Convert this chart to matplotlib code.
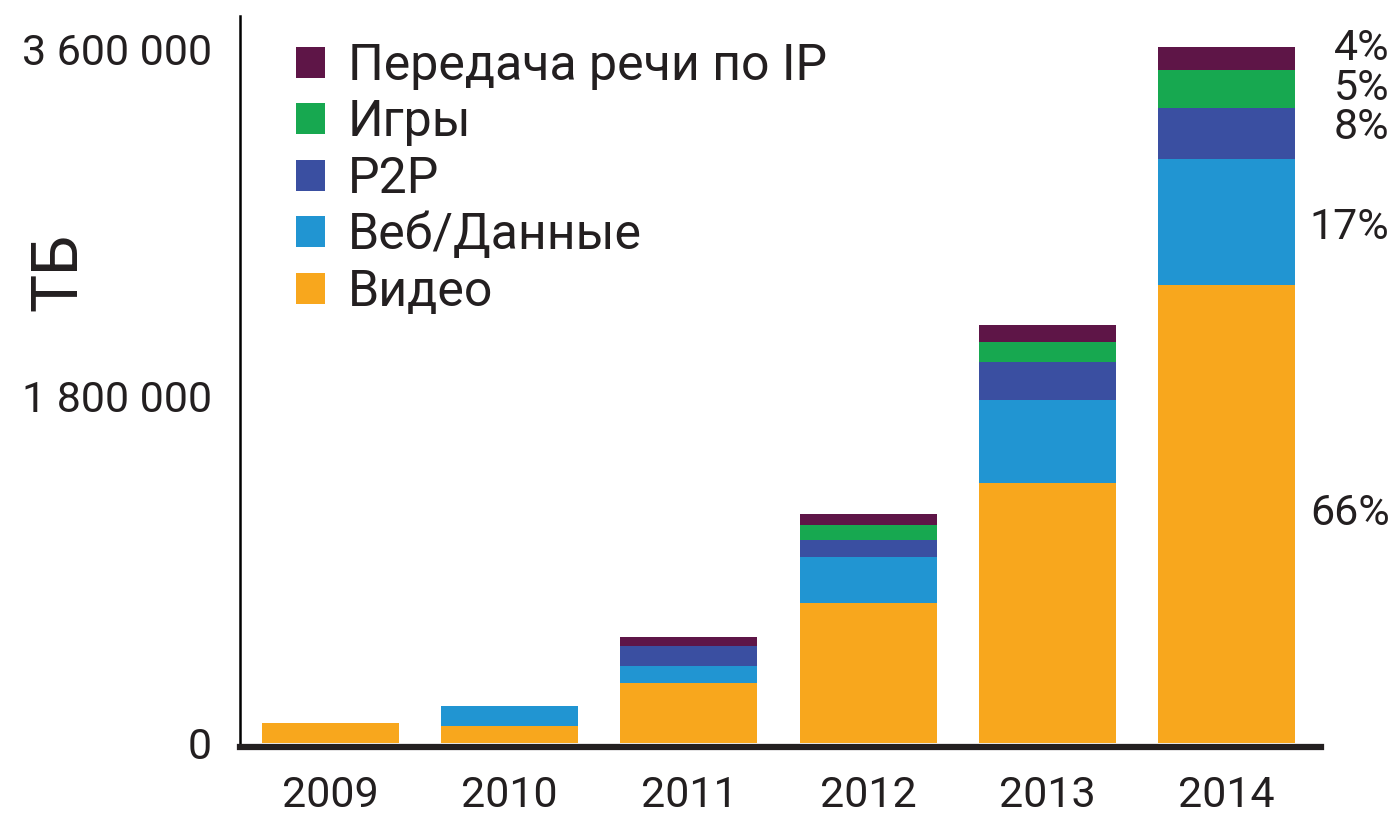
import matplotlib
matplotlib.use("Agg")
import matplotlib.pyplot as plt
from matplotlib.patches import Patch
import numpy as np

years = ["2009", "2010", "2011", "2012", "2013", "2014"]
video = [104000, 88000, 311000, 726000, 1349000, 2376000]
web = [0, 104000, 88000, 239000, 430000, 653000]
p2p = [0, 0, 104000, 88000, 197000, 267000]
games = [0, 0, 0, 78000, 104000, 195000]
voip = [0, 0, 47000, 57000, 88000, 121000]

series_names = ["Видео", "Веб/Данные", "P2P", "Игры", "Передача речи по IP"]
series_colors = ["#F8A71D", "#2195D2", "#3A4FA1", "#17A850", "#5E1547"]
pct_labels = ["66%", "17%", "8%", "5%", "4%"]
yticks = [0, 1800000, 3600000]
ytick_labels = ["0", "1 800 000", "3 600 000"]

plt.rcParams['font.family'] = ['Roboto', 'DejaVu Sans']
txt = "#231F20"

W, H = 1394, 819
fig = plt.figure(figsize=(W / 100, H / 100), dpi=100)
ax = fig.add_axes([240 / W, 1 - 743 / H, (1321 - 240) / W, (743 - 16) / H])

x = np.arange(len(years))
data = [video, web, p2p, games, voip]
bottom = np.zeros(len(years))
for vals, c in zip(data, series_colors):
    ax.bar(x, vals, width=0.765, bottom=bottom, color=c, linewidth=0)
    bottom = bottom + np.array(vals)

ax.set_xlim(-0.505, 5.527)
ax.set_ylim(0, 3771000)

for s in ["top", "right"]:
    ax.spines[s].set_visible(False)
ax.spines["bottom"].set_linewidth(4.5)
ax.spines["bottom"].set_color(txt)
ax.spines["bottom"].set_position(("outward", 3))
ax.spines["left"].set_linewidth(1.8)
ax.spines["left"].set_color("black")

ax.set_xticks(x)
ax.set_xticklabels(years, fontsize=31, color=txt)
ax.set_yticks(yticks)
ax.set_yticklabels(ytick_labels, fontsize=31, color=txt)
ax.tick_params(axis="both", length=0)
ax.tick_params(axis="x", pad=20)
ax.tick_params(axis="y", pad=20)

fig.text(58 / W, 1 - 272 / H, "ТБ", rotation=90, fontsize=46, color=txt,
         ha="center", va="center")

# percent labels on 2014 bar
cum = 0
offsets = [0, -4, 4, 0, 7]
for i, (vals, lab) in enumerate(zip(data, pct_labels)):
    mid = cum + vals[-1] / 2
    cum += vals[-1]
    ax.annotate(lab, xy=(5 + 0.765 / 2, mid), xytext=(68, offsets[i]),
                textcoords="offset points", ha="right", va="center",
                fontsize=31, color=txt, annotation_clip=False)

handles = [Patch(facecolor=c, edgecolor="none") for c in series_colors][::-1]
labels = series_names[::-1]
leg = ax.legend(handles, labels, loc="upper left",
                bbox_to_anchor=(296 / W, 1 - 42 / H),
                bbox_transform=fig.transFigure, frameon=False,
                fontsize=36, handlelength=0.58, handleheight=0.58,
                handletextpad=0.45, labelspacing=0.17, borderpad=0,
                borderaxespad=0)
for t in leg.get_texts():
    t.set_color(txt)

fig.savefig("out.png", dpi=100)
